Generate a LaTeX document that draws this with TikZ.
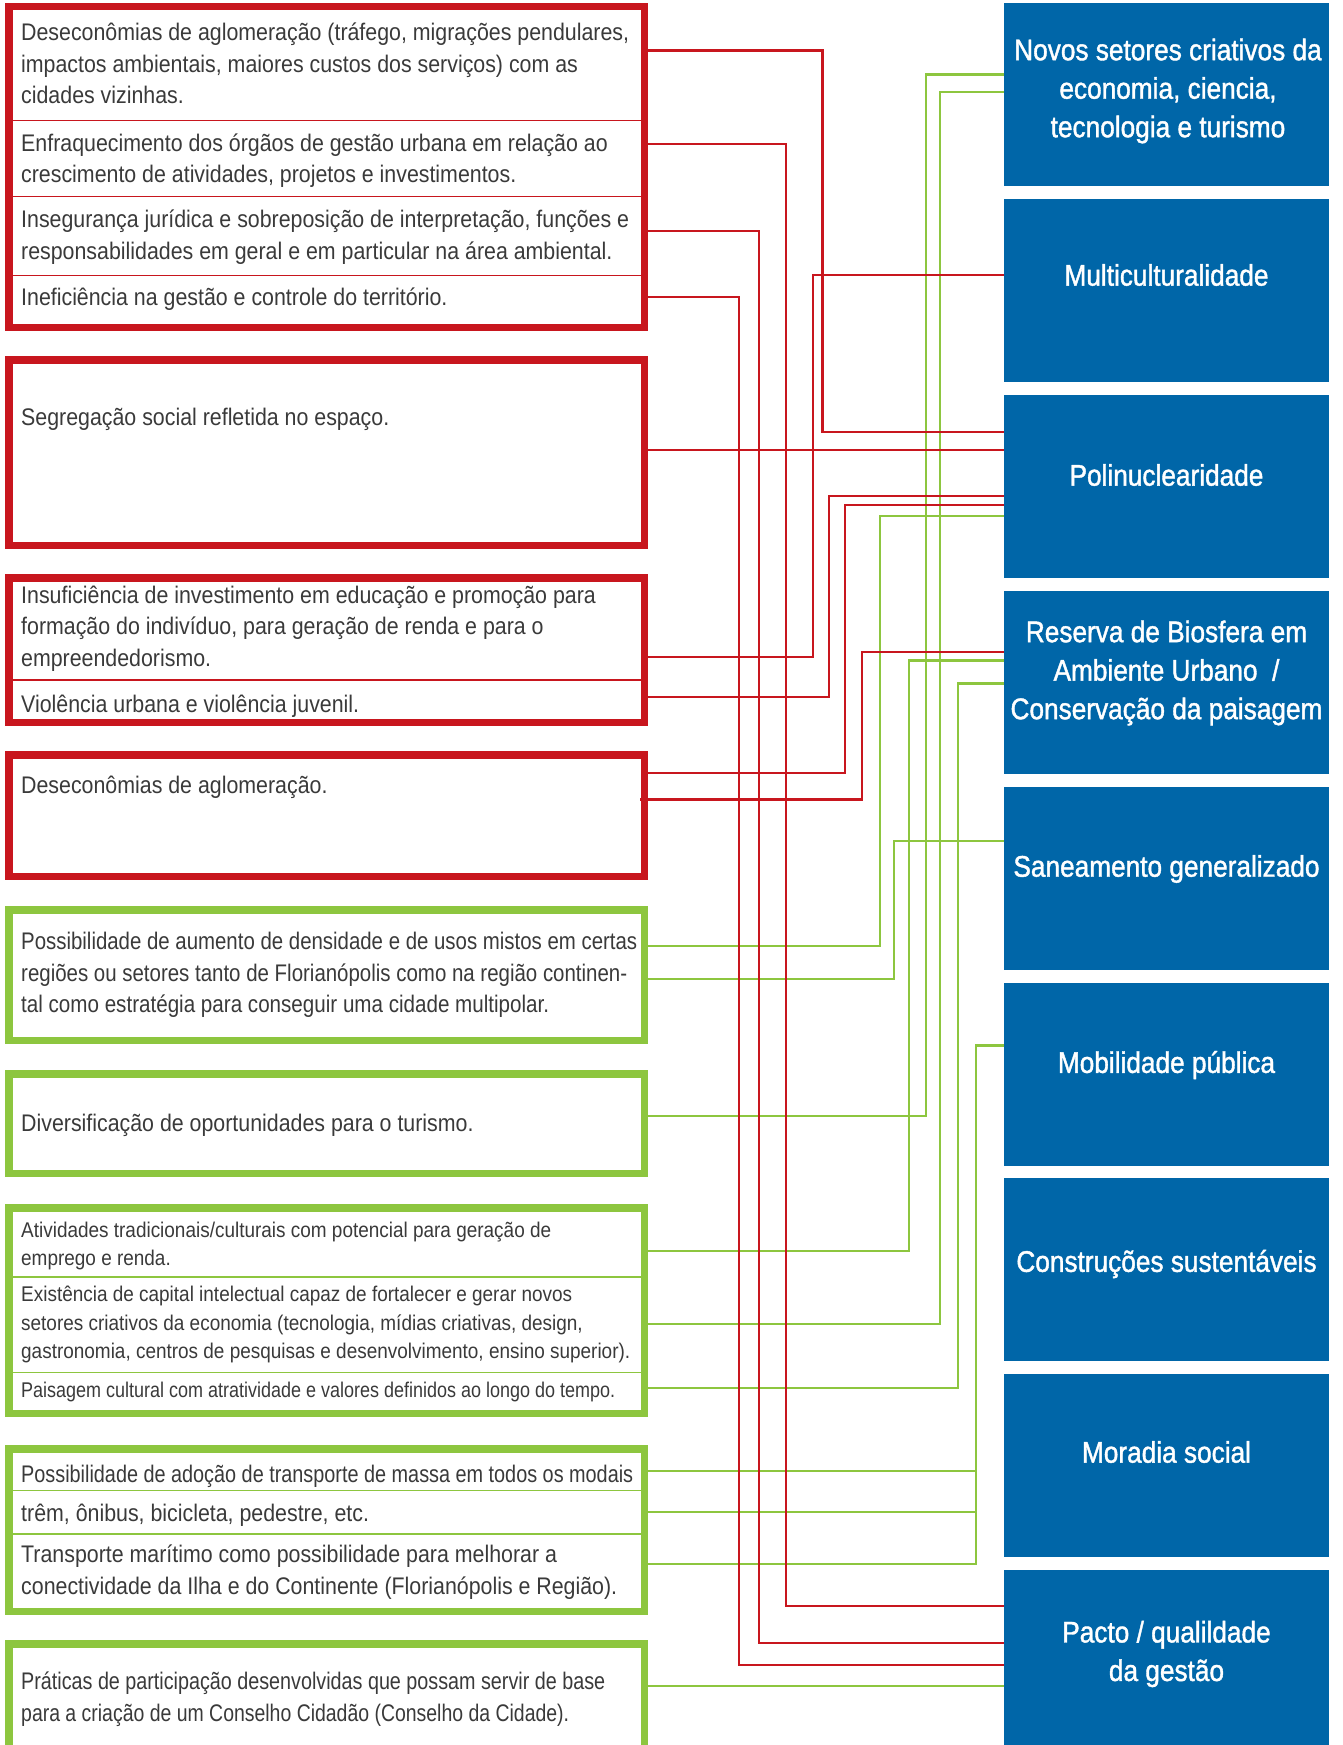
\documentclass[tikz,border=0pt]{standalone}
\usepackage{graphicx}
\usepackage{fontspec}
\setmainfont{Liberation Sans}
\newfontfamily\bodyfont{Liberation Sans}[FakeStretch=0.89]
\newfontfamily\titlefont{Liberation Sans}[FakeStretch=0.88,FakeBold=1.3]
\definecolor{cred}{RGB}{200,22,30}
\definecolor{cgreen}{RGB}{141,198,63}
\definecolor{cblue}{RGB}{0,102,168}
\definecolor{ctext}{RGB}{58,58,58}
\newcommand{\tstrut}{\rule{0pt}{24pt}}
\newcommand{\sstrut}{\rule{0pt}{21pt}}
\newcommand{\fitw}[2]{\resizebox{#1pt}{\height}{#2}}
\begin{document}
\begin{tikzpicture}[x=1pt,y=-1pt,
  redbox/.style={draw=cred, line width=7.5pt, minimum width=635.5pt, inner sep=0pt, outer sep=0pt, anchor=north west},
  greenbox/.style={redbox, draw=cgreen},
  bluebox/.style={fill=cblue, minimum width=325pt, minimum height=183pt, inner sep=0pt, outer sep=0pt, anchor=north west},
  rtext/.style={anchor=north west, inner sep=0pt, align=left, text=ctext, font=\bodyfont\fontsize{24}{31.5}\selectfont},
  stext/.style={rtext, font=\bodyfont\fontsize{21.3}{28.5}\selectfont},
  ttext/.style={anchor=center, inner sep=0pt, align=center, text=white, font=\titlefont\fontsize{29.8}{38.5}\selectfont},
  rline/.style={draw=cred, line width=2.2pt},
  gline/.style={draw=cgreen, line width=2.2pt},
  rdiv/.style={draw=cred, line width=1.3pt},
  gdiv/.style={draw=cgreen, line width=1.3pt}]
\useasboundingbox (0,0) rectangle (1342,1745);
\fill[white] (0,0) rectangle (1342,1745);
\clip (0,0) rectangle (1342,1745);

% ---------- blue target boxes ----------
\node[bluebox] (b1) at (1004,3) {};
\node[bluebox] (b2) at (1004,199) {};
\node[bluebox] (b3) at (1004,395) {};
\node[bluebox] (b4) at (1004,591) {};
\node[bluebox] (b5) at (1004,787) {};
\node[bluebox] (b6) at (1004,983) {};
\node[bluebox] (b7) at (1004,1178) {};
\node[bluebox] (b8) at (1004,1374) {};
\node[bluebox] (b9) at (1004,1570) {};

\node[ttext] (t1) at (1168,91) {Novos setores criativos da\\economia, ciencia,\\tecnologia e turismo};
\node[ttext] (t2) at (1166.5,275) {Multiculturalidade};
\node[ttext] (t3) at (1166.5,475) {Polinuclearidade};
\node[ttext] (t4) at (1166.5,673) {Reserva de Biosfera em\\Ambiente Urbano\ \ /\\Conservação da paisagem};
\node[ttext] (t5) at (1166.5,869) {Saneamento generalizado};
\node[ttext] (t6) at (1166.5,1065) {Mobilidade pública};
\node[ttext] (t7) at (1166.5,1264) {Construções sustentáveis};
\node[ttext] (t8) at (1166.5,1452) {Moradia social};
\node[ttext] (t9) at (1166.5,1654) {Pacto / qualildade\\da gestão};

% ---------- left boxes ----------
\node[redbox, minimum height=320.5pt] (boxA) at (8.75,6.75) {};
\node[redbox, minimum height=185.5pt] (boxB) at (8.75,359.75) {};
\node[redbox, minimum height=144.5pt] (boxC) at (8.75,577.75) {};
\node[redbox, minimum height=121.5pt] (boxD) at (8.75,754.75) {};
\node[greenbox, minimum height=130.5pt] (boxE) at (8.75,909.75) {};
\node[greenbox, minimum height=99.5pt] (boxF) at (8.75,1073.75) {};
\node[greenbox, minimum height=205.5pt] (boxG) at (8.75,1207.75) {};
\node[greenbox, minimum height=162.5pt] (boxH) at (8.75,1448.75) {};
\node[greenbox, minimum height=160pt] (boxI) at (8.75,1643.75) {};

% dividers
\draw[rdiv] (boxA.west |- 0,120.5) ++(3.75,0) -- ++(628,0);
\draw[rdiv] (boxA.west |- 0,196.5) ++(3.75,0) -- ++(628,0);
\draw[rdiv] (boxA.west |- 0,275.5) ++(3.75,0) -- ++(628,0);
\draw[rdiv] (boxC.west |- 0,680) ++(3.75,0) -- ++(628,0);
\draw[gdiv] (boxG.west |- 0,1277) ++(3.75,0) -- ++(628,0);
\draw[gdiv] (boxG.west |- 0,1372.5) ++(3.75,0) -- ++(628,0);
\draw[gdiv] (boxH.west |- 0,1490.5) ++(3.75,0) -- ++(628,0);
\draw[gdiv] (boxH.west |- 0,1534) ++(3.75,0) -- ++(628,0);

% texts
\node[rtext] (tA1) at (21,16.5) {\tstrut Deseconômias de aglomeração (tráfego, migrações pendulares,\\impactos ambientais, maiores custos dos serviços) com as\\cidades vizinhas.};
\node[rtext] (tA2) at (21,127) {\tstrut Enfraquecimento dos órgãos de gestão urbana em relação ao\\crescimento de atividades, projetos e investimentos.};
\node[rtext] (tA3) at (21,203.5) {\tstrut Insegurança jurídica e sobreposição de interpretação, funções e\\responsabilidades em geral e em particular na área ambiental.};
\node[rtext] (tA4) at (21,281.5) {\tstrut Ineficiência na gestão e controle do território.};
\node[rtext] (tB1) at (21,401.5) {\tstrut Segregação social refletida no espaço.};
\node[rtext] (tC1) at (21,579) {\tstrut Insuficiência de investimento em educação e promoção para\\formação do indivíduo, para geração de renda e para o\\empreendedorismo.};
\node[rtext] (tC2) at (21,688) {\tstrut Violência urbana e violência juvenil.};
\node[rtext] (tD1) at (21,769) {\tstrut Deseconômias de aglomeração.};
\node[rtext] (tE1) at (21,925.5) {\tstrut\fitw{616}{Possibilidade de aumento de densidade e de usos mistos em certas}\\\fitw{606}{regiões ou setores tanto de Florianópolis como na região continen-}\\\fitw{528}{tal como estratégia para conseguir uma cidade multipolar.}};
\node[rtext] (tF1) at (21,1107) {\tstrut Diversificação de oportunidades para o turismo.};
\node[stext] (tG1) at (21,1216) {\sstrut Atividades tradicionais/culturais com potencial para geração de\\emprego e renda.};
\node[stext] (tG2) at (21,1280.5) {\sstrut Existência de capital intelectual capaz de fortalecer e gerar novos\\setores criativos da economia (tecnologia, mídias criativas, design,\\gastronomia, centros de pesquisas e desenvolvimento, ensino superior).};
\node[stext] (tG3) at (21,1376) {\sstrut\fitw{594}{Paisagem cultural com atratividade e valores definidos ao longo do tempo.}};
\node[rtext] (tH1) at (21,1458) {\tstrut\fitw{612}{Possibilidade de adoção de transporte de massa em todos os modais}};
\node[rtext] (tH2) at (21,1497.5) {\tstrut trêm, ônibus, bicicleta, pedestre, etc.};
\node[rtext] (tH3) at (21,1538.5) {\tstrut Transporte marítimo como possibilidade para melhorar a\\conectividade da Ilha e do Continente (Florianópolis e Região).};
\node[rtext] (tI1) at (21,1665.5) {\tstrut\fitw{584}{Práticas de participação desenvolvidas que possam servir de base}\\\fitw{548}{para a criação de um Conselho Cidadão (Conselho da Cidade).}};

% ---------- green connectors ----------
\coordinate (mobx) at (976,0);
\draw[gline] (boxE.east |- 0,946) -| (880,516) -- (b3.west |- 0,516);
\draw[gline] (boxE.east |- 0,979) -| (894,841) -- (b5.west |- 0,841);
\draw[gline] (boxF.east |- 0,1116) -| (926,74.6) -- (b1.west |- 0,74.6);
\draw[gline] (boxG.east |- 0,1250.7) -| (909,660.5) -- (b4.west |- 0,660.5);
\draw[gline] (boxG.east |- 0,1324) -| (940,92) -- (b1.west |- 0,92);
\draw[gline] (boxG.east |- 0,1388) -| (958,683.4) -- (b4.west |- 0,683.4);
\draw[gline] (boxH.east |- 0,1564) -| (mobx |- 0,1045.5) -- (b6.west |- 0,1045.5);
\draw[gline] (boxH.east |- 0,1471) -- (mobx |- 0,1471);
\draw[gline] (boxH.east |- 0,1512) -- (mobx |- 0,1512);
\draw[gline] (boxI.east |- 0,1686) -- (b9.west |- 0,1686);

% ---------- red connectors ----------
\draw[rline] (boxA.east |- 0,50.5) -| (822.5,432) -- (b3.west |- 0,432);
\draw[rline] (boxA.east |- 0,144) -| (786,1606) -- (b9.west |- 0,1606);
\draw[rline] (boxA.east |- 0,231) -| (759,1643) -- (b9.west |- 0,1643);
\draw[rline] (boxA.east |- 0,297) -| (739,1665) -- (b9.west |- 0,1665);
\draw[rline] (boxB.east |- 0,450) -- (b3.west |- 0,450);
\draw[rline] (boxC.east |- 0,656.6) -| (812.6,275) -- (b2.west |- 0,275);
\draw[rline] (boxC.east |- 0,697) -| (829,496) -- (b3.west |- 0,496);
\draw[rline] (boxD.east |- 0,773) -| (845,505) -- (b3.west |- 0,505);
\draw[rline] (boxD.east |- 0,799.5) ++(-4,0) -| (862,651.6) -- (b4.west |- 0,651.6);
\end{tikzpicture}
\end{document}
